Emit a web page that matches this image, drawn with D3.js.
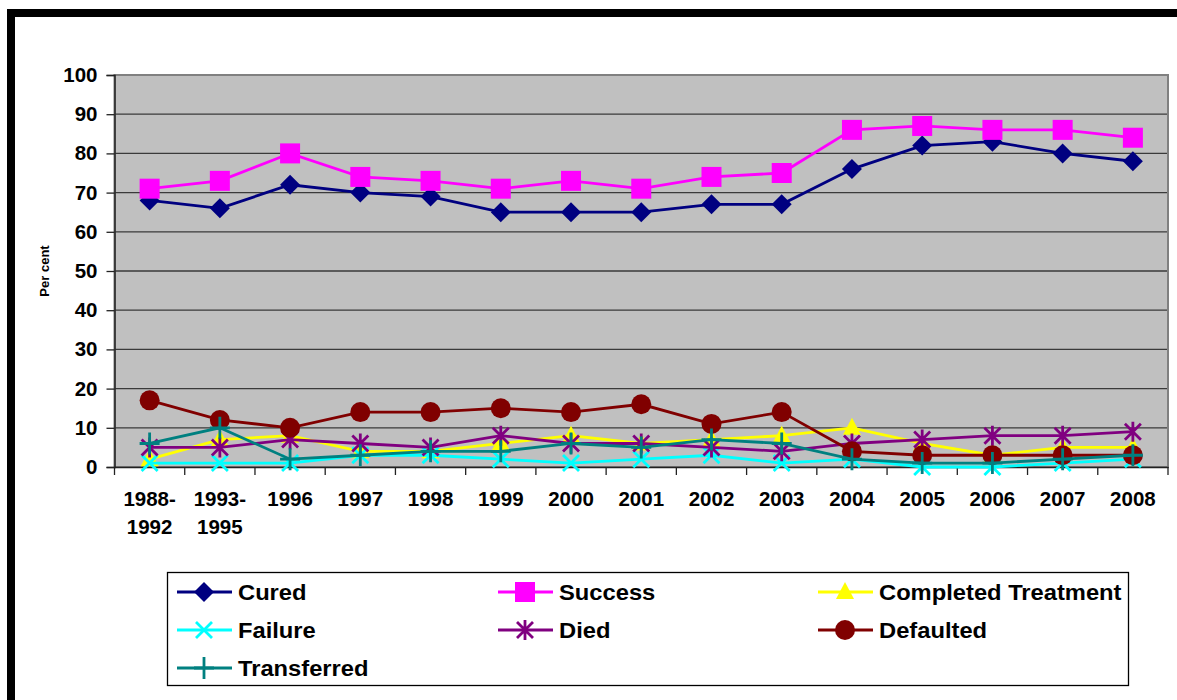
<!DOCTYPE html>
<html>
<head>
<meta charset="utf-8">
<script src="https://cdn.jsdelivr.net/npm/d3@7"></script>
<style>
  body { margin: 0; background: #fff; }
  svg { display: block; font-family: "Liberation Sans", Arial, sans-serif; font-weight: bold; }
</style>
</head>
<body>
<div id="chart"></div>
<script>
// categories
const years = ['1988-1992', '1993-1995', '1996', '1997', '1998', '1999', '2000', '2001', '2002', '2003', '2004', '2005', '2006', '2007', '2008'];

// series values (per cent)
const cured       = [68, 66, 72, 70, 69, 65, 65, 65, 67, 67, 76, 82, 83, 80, 78];
const success     = [71, 73, 80, 74, 73, 71, 73, 71, 74, 75, 86, 87, 86, 86, 84];
const completed   = [2, 7, 8, 4, 4, 6, 8, 6, 7, 8, 10, 6, 3, 5, 5];
const failure     = [1, 1, 1, 3, 3, 2, 1, 2, 3, 1, 2, 0, 0, 1, 2];
const died        = [5, 5, 7, 6, 5, 8, 6, 6, 5, 4, 6, 7, 8, 8, 9];
const defaulted   = [17, 12, 10, 14, 14, 15, 14, 16, 11, 14, 4, 3, 3, 3, 3];
const transferred = [6, 10, 2, 3, 4, 4, 6, 5, 7, 6, 2, 1, 1, 2, 3];

const yTicks = [0, 10, 20, 30, 40, 50, 60, 70, 80, 90, 100];

const series = [
  { name: 'Cured', values: cured, color: '#000080', shape: 'diamond' },
  { name: 'Success', values: success, color: '#ff00ff', shape: 'square' },
  { name: 'Completed Treatment', values: completed, color: '#ffff00', shape: 'triangle' },
  { name: 'Failure', values: failure, color: '#00ffff', shape: 'x' },
  { name: 'Died', values: died, color: '#800080', shape: 'star' },
  { name: 'Defaulted', values: defaulted, color: '#800000', shape: 'circle' },
  { name: 'Transferred', values: transferred, color: '#008080', shape: 'plus' }
];

const width = 1177, height = 700;
const plot = { left: 114.5, top: 75, right: 1168, bottom: 467 };

const svg = d3.select('#chart').append('svg')
  .attr('width', width)
  .attr('height', height);

// outer frame
svg.append('rect')
  .attr('x', 11).attr('y', 13)
  .attr('width', 1200).attr('height', 720)
  .attr('fill', 'none')
  .attr('stroke', '#000')
  .attr('stroke-width', 8);

const x = d3.scaleBand()
  .domain(years)
  .range([plot.left, plot.right]);

const y = d3.scaleLinear()
  .domain([0, 100])
  .range([plot.bottom, plot.top]);

// plot area
svg.append('rect')
  .attr('x', plot.left).attr('y', plot.top)
  .attr('width', plot.right - plot.left)
  .attr('height', plot.bottom - plot.top)
  .attr('fill', '#c0c0c0');

// gridlines
svg.append('g')
  .selectAll('line')
  .data(yTicks.slice(1, -1))
  .enter().append('line')
  .attr('x1', plot.left).attr('x2', plot.right)
  .attr('y1', d => y(d)).attr('y2', d => y(d))
  .attr('stroke', '#3a3a3a')
  .attr('stroke-width', 1.3);

// plot border
svg.append('rect')
  .attr('x', plot.left).attr('y', plot.top)
  .attr('width', plot.right - plot.left)
  .attr('height', plot.bottom - plot.top)
  .attr('fill', 'none')
  .attr('stroke', '#808080')
  .attr('stroke-width', 2);

// y axis
const yAxis = svg.append('g')
  .attr('transform', `translate(${plot.left},0)`)
  .call(d3.axisLeft(y).tickValues(yTicks).tickSize(8).tickPadding(9));
yAxis.select('.domain').attr('stroke', '#222').attr('stroke-width', 1.5);
yAxis.selectAll('.tick line').attr('stroke', '#222').attr('stroke-width', 1.3);
yAxis.selectAll('.tick text')
  .attr('font-size', 20.5).attr('font-weight', 'bold')
  .attr('font-family', '"Liberation Sans", Arial, sans-serif')
  .attr('fill', '#000');

// x axis
const xAxis = svg.append('g')
  .attr('transform', `translate(0,${plot.bottom})`)
  .call(d3.axisBottom(x).tickSize(0).tickFormat(''));
xAxis.select('.domain').attr('stroke', '#222').attr('stroke-width', 1.5);

svg.append('g')
  .selectAll('line')
  .data(d3.range(years.length + 1))
  .enter().append('line')
  .attr('x1', i => plot.left + i * x.step())
  .attr('x2', i => plot.left + i * x.step())
  .attr('y1', plot.bottom).attr('y2', plot.bottom + 8)
  .attr('stroke', '#222').attr('stroke-width', 1.3);

const xLabels = svg.append('g')
  .selectAll('text')
  .data(years)
  .enter().append('text')
  .attr('x', d => x(d) + x.bandwidth() / 2)
  .attr('y', 506)
  .attr('text-anchor', 'middle')
  .attr('font-size', 20.5)
  .attr('fill', '#000');
xLabels.each(function (d) {
  const parts = d.includes('-') ? [d.split('-')[0] + '-', d.split('-')[1]] : [d];
  d3.select(this).selectAll('tspan')
    .data(parts)
    .enter().append('tspan')
    .attr('x', x(d) + x.bandwidth() / 2)
    .attr('dy', (p, i) => i === 0 ? 0 : 28)
    .text(p => p);
});

// y label
svg.append('text')
  .attr('transform', 'translate(49,271) rotate(-90)')
  .attr('text-anchor', 'middle')
  .attr('font-size', 13)
  .text('Per cent');

// markers
function drawMarker(g, shape, color) {
  if (shape === 'diamond') {
    g.append('path').attr('d', 'M0,-10L10,0L0,10L-10,0Z').attr('fill', color);
  } else if (shape === 'square') {
    g.append('rect').attr('x', -10).attr('y', -10).attr('width', 20).attr('height', 20).attr('fill', color);
  } else if (shape === 'triangle') {
    g.append('path').attr('d', 'M0,-10L9,7L-9,7Z').attr('fill', color);
  } else if (shape === 'circle') {
    g.append('circle').attr('r', 10).attr('fill', color);
  } else if (shape === 'x') {
    g.append('path').attr('d', 'M-8,-8L8,8M-8,8L8,-8').attr('stroke', color).attr('stroke-width', 2.8);
  } else if (shape === 'star') {
    g.append('path').attr('d', 'M-8,-8L8,8M-8,8L8,-8M0,-10L0,10').attr('stroke', color).attr('stroke-width', 2.8);
  } else if (shape === 'plus') {
    g.append('path').attr('d', 'M-10,0L10,0M0,-11L0,11').attr('stroke', color).attr('stroke-width', 2.8);
  }
}

const line = d3.line()
  .x((d, i) => x(years[i]) + x.bandwidth() / 2)
  .y(d => y(d));

series.forEach(s => {
  const g = svg.append('g').attr('class', 'series');
  g.append('path')
    .datum(s.values)
    .attr('d', line)
    .attr('fill', 'none')
    .attr('stroke', s.color)
    .attr('stroke-width', 2.8);
  s.values.forEach((v, i) => {
    const m = g.append('g')
      .attr('transform', `translate(${x(years[i]) + x.bandwidth() / 2},${y(v)})`);
    drawMarker(m, s.shape, s.color);
  });
});

// legend
svg.append('rect')
  .attr('x', 167.5).attr('y', 572.5)
  .attr('width', 961).attr('height', 113)
  .attr('fill', '#fff')
  .attr('stroke', '#000')
  .attr('stroke-width', 1.3);

const legendCols = [177, 498, 818];
const legendRows = [592, 630, 668];
series.forEach((s, i) => {
  const lx = legendCols[i % 3], ly = legendRows[Math.floor(i / 3)];
  const g = svg.append('g').attr('transform', `translate(${lx},${ly})`);
  g.append('line')
    .attr('x1', 0).attr('x2', 55)
    .attr('stroke', s.color).attr('stroke-width', 2.8);
  drawMarker(g.append('g').attr('transform', 'translate(27,0)'), s.shape, s.color);
  g.append('text')
    .attr('transform', 'translate(61,8) scale(1.055,1)')
    .attr('font-size', 22.5)
    .attr('fill', '#000')
    .text(s.name);
});
</script>
</body>
</html>
